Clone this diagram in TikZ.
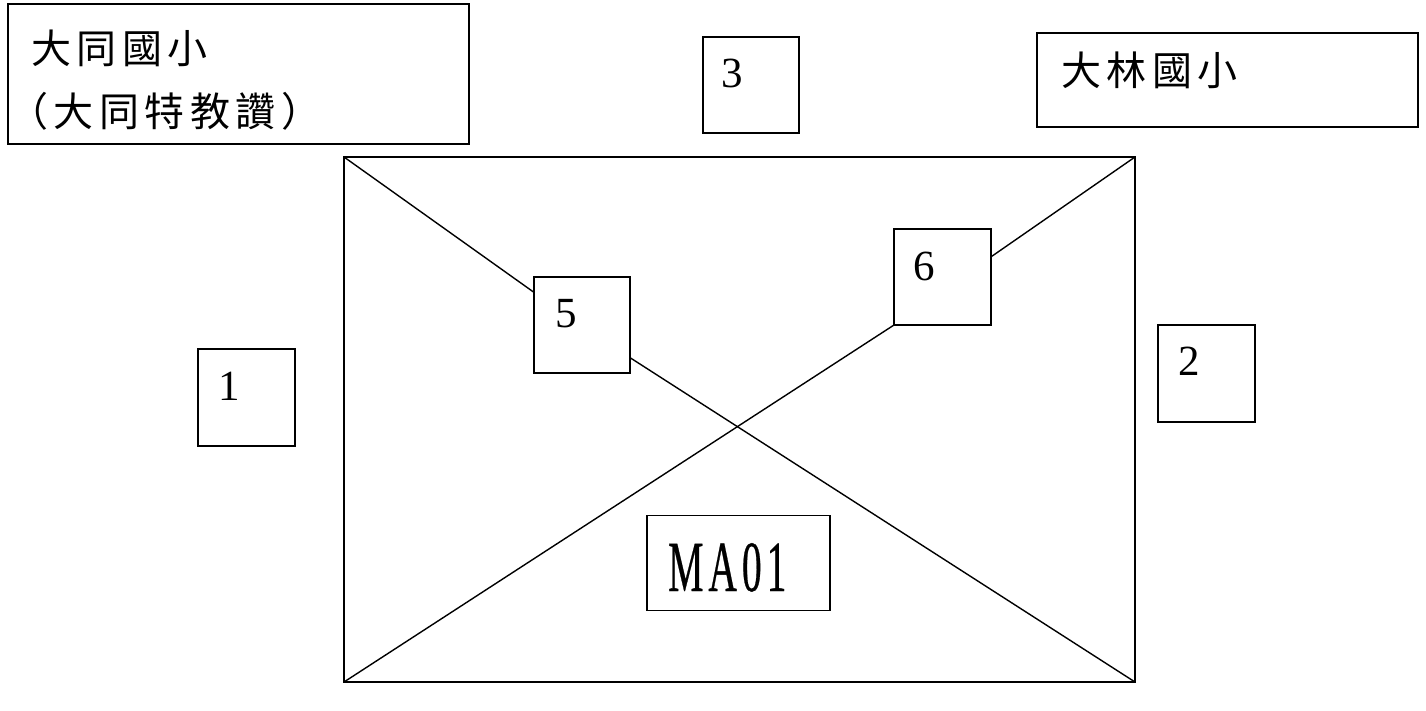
\documentclass[tikz,border=0pt]{standalone}
\usepackage{fontspec}
\setmainfont{Liberation Serif}
\newfontfamily\cjk{Noto Sans CJK TC}
\newfontfamily\maf[FakeBold=0.6]{Liberation Serif}
\usetikzlibrary{calc}
\newcommand\cjkgap{\hspace{5.5pt}}
\newcommand\magap{\hspace{9pt}}
\begin{document}
\begin{tikzpicture}[x=1pt,y=-1pt,
  boxed/.style={draw,line width=1.8pt,inner sep=0pt,outer sep=0pt,fill=white},
  sq/.style={boxed,minimum width=96pt,minimum height=96pt},
  conn/.style={line width=1.4pt},
  cjklabel/.style={inner sep=0pt,anchor=west,font=\cjk\fontsize{40pt}{40pt}\selectfont},
  digit/.style={inner sep=0pt,anchor=base west,font=\fontsize{43pt}{43pt}\selectfont}]
\useasboundingbox (0,0) rectangle (1426,710);
% big rectangle
\node[boxed,fill=none,minimum width=791pt,minimum height=525pt] (big) at (739.5,419.5) {};
% school boxes
\node[boxed,minimum width=461pt,minimum height=140pt] (schoolA) at (238.5,74) {};
\node[cjklabel] (schoolAl1) at (31,48.5) {大\cjkgap 同\cjkgap 國\cjkgap 小};
\node[cjklabel] (schoolAl2) at (8,111.5) {（\cjkgap 大\cjkgap 同\cjkgap 特\cjkgap 教\cjkgap 讚\cjkgap ）};
\node[boxed,minimum width=381pt,minimum height=94pt] (schoolB) at (1227.5,80) {};
\node[cjklabel] (schoolBl) at (1061,70) {大\cjkgap 林\cjkgap 國\cjkgap 小};
% numbered boxes
\node[sq] (b3) at (751,85) {};
\node[sq] (b5) at (582,325) {};
\node[sq,minimum width=97pt] (b6) at (942.5,277) {};
\node[sq,minimum width=97pt,minimum height=97pt] (b1) at (246.5,397.5) {};
\node[sq,minimum width=97pt,minimum height=97pt] (b2) at (1206.5,373.5) {};
\node[boxed,minimum width=183pt,minimum height=95pt] (ma) at (738.5,563) {};
% connectors
\draw[conn] (big.north west) -- ($(b5.north west)!0.16!(b5.south west)$);
\draw[conn] ($(b5.north east)!0.84!(b5.south east)$) -- (big.south east);
\draw[conn] (big.south west) -- (b6.south west);
\draw[conn] ($(b6.north east)!0.29!(b6.south east)$) -- (big.north east);
% labels
\node[digit] (t3) at (721,87) {3};
\node[digit] (t5) at (555,327) {5};
\node[digit] (t6) at (913,280) {6};
\node[digit] (t1) at (218,400) {1};
\node[digit] (t2) at (1178,375) {2};
\node[inner sep=0pt,anchor=base west,font=\maf\fontsize{72pt}{72pt}\selectfont] (tma) at (668,591) {\scalebox{0.55}[1]{M\magap A\magap 0\magap 1}};
\end{tikzpicture}
\end{document}
